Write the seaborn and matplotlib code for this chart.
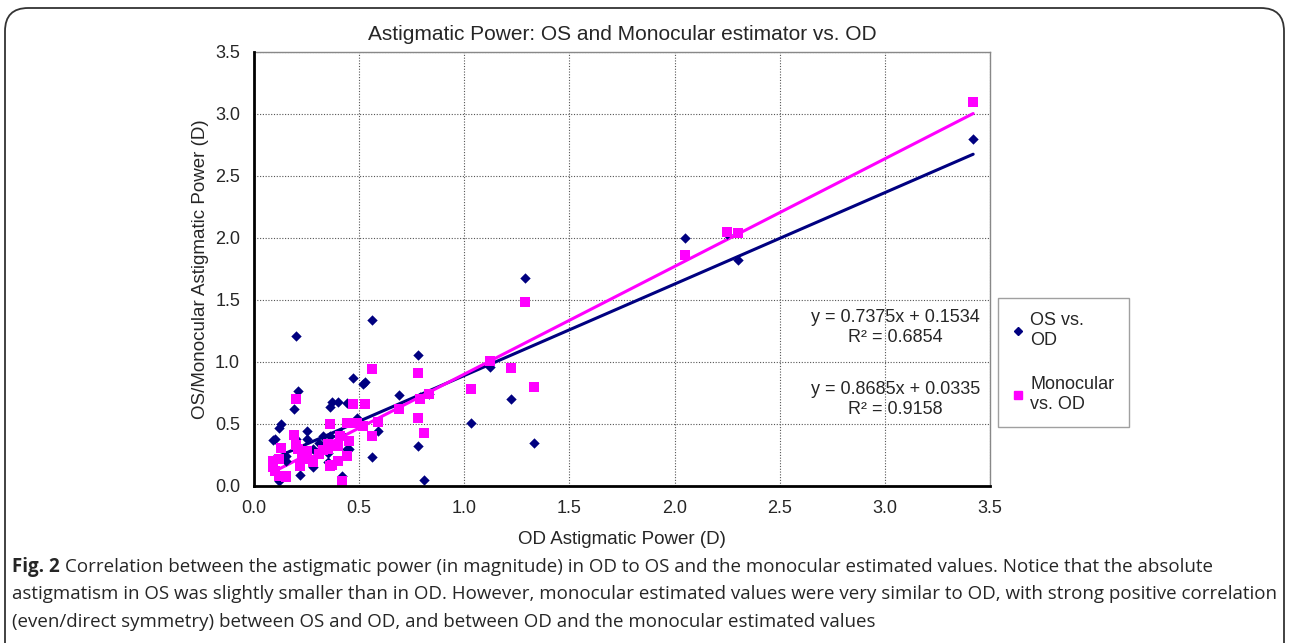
import numpy as np
import pandas as pd
import matplotlib
matplotlib.use('Agg')
import matplotlib.pyplot as plt
import seaborn as sns
from matplotlib.patches import FancyBboxPatch
from matplotlib.lines import Line2D

# OD astigmatic power (x), OS and monocular estimates (y)
od = [3.42, 2.30, 2.25, 2.05, 1.33, 1.29, 1.22, 1.12, 1.03, 0.81,
      0.83, 0.78, 0.78, 0.79, 0.69, 0.59, 0.56, 0.56, 0.53, 0.52,
      0.49, 0.47, 0.45, 0.44, 0.44, 0.42, 0.41, 0.40, 0.40, 0.37,
      0.36, 0.36, 0.35, 0.35, 0.33, 0.31, 0.28, 0.28, 0.25, 0.25,
      0.23, 0.22, 0.21, 0.20, 0.20, 0.19, 0.15, 0.15, 0.13, 0.12,
      0.12, 0.10, 0.09, 0.09]
os_vals = [2.80, 1.82, 2.03, 2.00, 0.35, 1.68, 0.70, 0.96, 0.51, 0.05,
           0.74, 1.06, 0.32, 0.72, 0.73, 0.44, 1.34, 0.23, 0.84, 0.82,
           0.55, 0.87, 0.30, 0.30, 0.67, 0.08, 0.43, 0.40, 0.68, 0.68,
           0.64, 0.40, 0.27, 0.19, 0.40, 0.35, 0.15, 0.30, 0.44, 0.38,
           0.24, 0.09, 0.77, 1.21, 0.38, 0.62, 0.24, 0.20, 0.50, 0.47,
           0.04, 0.38, 0.37, 0.21]
mono_vals = [3.10, 2.04, 2.05, 1.86, 0.80, 1.48, 0.95, 1.01, 0.78, 0.43,
             0.74, 0.91, 0.55, 0.70, 0.62, 0.52, 0.94, 0.40, 0.66, 0.48,
             0.51, 0.66, 0.36, 0.51, 0.24, 0.04, 0.40, 0.20, 0.32, 0.17,
             0.50, 0.16, 0.34, 0.30, 0.29, 0.26, 0.19, 0.21, 0.28, 0.22,
             0.24, 0.16, 0.30, 0.70, 0.33, 0.41, 0.08, 0.07, 0.31, 0.22,
             0.08, 0.12, 0.20, 0.15]

series_names = ['OS vs.\nOD', 'Monocular\nvs. OD']
slopes = [0.7375, 0.8685]
intercepts = [0.1534, 0.0335]
r2 = [0.6854, 0.9158]
colors = ['#000080', '#FF00FF']

df = pd.concat([
    pd.DataFrame({'od': od, 'val': os_vals, 'series': series_names[0]}),
    pd.DataFrame({'od': od, 'val': mono_vals, 'series': series_names[1]}),
])

sns.set_style('white')
plt.rcParams['font.family'] = ['Liberation Sans', 'DejaVu Sans']

fig = plt.figure(figsize=(12.89, 6.43), dpi=100)
ax = fig.add_axes([254 / 1289, 1 - 486 / 643, (990 - 254) / 1289, (486 - 52) / 643])

# rounded caption frame
frame = FancyBboxPatch((5 / 1289, -0.05), 1279 / 1289, 1 - 8 / 643 + 0.05,
                       boxstyle='round,pad=0,rounding_size=0.018',
                       transform=fig.transFigure, fill=False,
                       edgecolor='#333333', linewidth=1.3, mutation_aspect=2.0)
fig.patches.append(frame)

for name, col, mk, sz in zip(series_names, colors, ['D', 's'], [28, 44]):
    sns.scatterplot(data=df[df['series'] == name], x='od', y='val', color=col,
                    marker=mk, s=sz, linewidth=0, ax=ax, legend=False, zorder=3)

xs = np.array([min(od), max(od)])
for m, b, col in zip(slopes, intercepts, colors):
    sns.lineplot(x=xs, y=m * xs + b, color=col, linewidth=2.2, ax=ax, zorder=2)

ticks = np.arange(0, 3.51, 0.5)
ax.set_xlim(0, 3.5)
ax.set_ylim(0, 3.5)
ax.set_xticks(ticks)
ax.set_yticks(ticks)
ax.set_xticklabels([f'{v:.1f}' for v in ticks])
ax.set_yticklabels([f'{v:.1f}' for v in ticks])
ax.tick_params(axis='both', direction='inout', length=8, width=1.6, labelsize=13,
               color='black', pad=6)
ax.grid(True, color='#555555', linestyle=(0, (1, 1.5)), linewidth=0.8)
for s in ['left', 'bottom']:
    ax.spines[s].set_color('black')
    ax.spines[s].set_linewidth(2)
    ax.spines[s].set_zorder(5)
for s in ['top', 'right']:
    ax.spines[s].set_color('#888888')
    ax.spines[s].set_linewidth(1)

ax.set_xlabel('OD Astigmatic Power (D)', fontsize=13.5, labelpad=10)
ax.set_ylabel('OS/Monocular Astigmatic Power (D)', fontsize=13.5, labelpad=4)
ax.set_title('Astigmatic Power: OS and Monocular estimator vs. OD', fontsize=15, pad=9)

# trendline equations
for i, yc in enumerate([1.28, 0.70]):
    ax.text(3.05, yc, f'y = {slopes[i]:.4f}x + {intercepts[i]:.4f}\nR² = {r2[i]:.4f}',
            ha='center', va='center', fontsize=13, linespacing=1.2, zorder=4)

handles = [Line2D([], [], marker='D', color=colors[0], linestyle='none', markersize=4),
           Line2D([], [], marker='s', color=colors[1], linestyle='none', markersize=5.5)]
leg = ax.legend(handles, series_names, loc='upper left',
                bbox_to_anchor=(998 / 1289, 1 - 298 / 643), bbox_transform=fig.transFigure,
                fontsize=13, frameon=True, fancybox=False, edgecolor='#888888',
                handlelength=0.6, handletextpad=0.4, labelspacing=1.5,
                borderpad=0.8, borderaxespad=0)
leg.get_frame().set_linewidth(1)

# caption
cap_x = 12 / 1289
cap_fs = 13.5
lab = fig.text(cap_x, 1 - 567 / 643, 'Fig. 2', fontsize=cap_fs, fontweight='bold',
               family='Open Sans', va='center')
r = fig.canvas.get_renderer()
lab_w = lab.get_window_extent(renderer=r).width / fig.bbox.width
fig.text(cap_x + lab_w + 5 / 1289, 1 - 567 / 643,
         'Correlation between the astigmatic power (in magnitude) in OD to OS and the monocular '
         'estimated values. Notice that the absolute',
         fontsize=cap_fs, family='Open Sans', va='center')
fig.text(cap_x, 1 - 594 / 643,
         'astigmatism in OS was slightly smaller than in OD. However, monocular estimated values '
         'were very similar to OD, with strong positive correlation',
         fontsize=cap_fs, family='Open Sans', va='center')
fig.text(cap_x, 1 - 622 / 643,
         '(even/direct symmetry) between OS and OD, and between OD and the monocular estimated values',
         fontsize=cap_fs, family='Open Sans', va='center')

fig.savefig('out.png', dpi=100)
